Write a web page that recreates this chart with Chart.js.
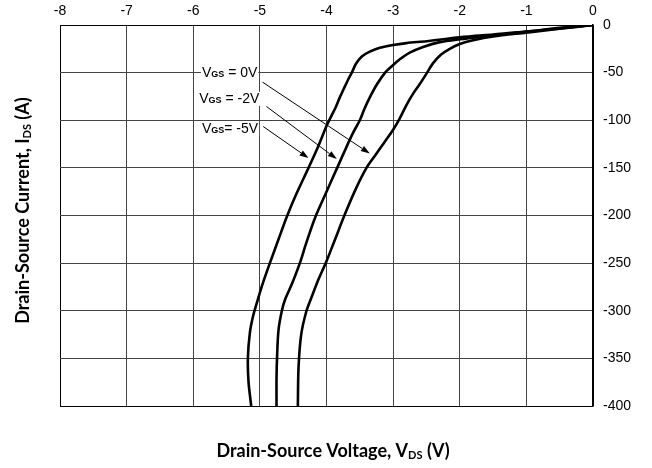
<!DOCTYPE html>
<html>
<head>
<meta charset="utf-8">
<script src="https://cdn.jsdelivr.net/npm/chart.js@4.4.0/dist/chart.umd.min.js"></script>
<style>
html, body { margin: 0; padding: 0; background: #fff; }
</style>
</head>
<body>
<canvas id="ivChart" width="652" height="468"></canvas>
<script>
// curve data (V, A)
const vds0V = [0, -0.5, -1, -1.5, -1.8, -2.0, -2.15, -2.28, -2.4, -2.49, -2.6, -2.7, -2.8, -2.9, -3.0, -3.13, -3.27, -3.4, -3.56, -3.72, -3.86, -4.0, -4.12, -4.22, -4.3, -4.38, -4.42, -4.43];
const ids0V = [0, -4, -8, -12, -16, -20, -25, -31, -40, -50, -62, -72, -84, -98, -110, -123, -137, -150, -172, -198, -223, -248, -267, -285, -300, -325, -360, -400];

const vdsM2V = [0, -0.5, -1, -1.5, -2, -2.3, -2.55, -2.75, -2.9, -3.0, -3.12, -3.24, -3.35, -3.43, -3.5, -3.6, -3.7, -3.84, -4.0, -4.17, -4.3, -4.4, -4.52, -4.62, -4.67, -4.72, -4.74, -4.75, -4.75];
const idsM2V = [0, -3.5, -7, -11, -15, -18, -23, -29, -36, -42, -50, -62, -76, -88, -100, -113, -128, -150, -175, -202, -228, -250, -272, -288, -300, -320, -345, -370, -400];

const vdsM5V = [0, -0.5, -1, -1.5, -2, -2.5, -2.8, -3.0, -3.2, -3.35, -3.47, -3.56, -3.62, -3.68, -3.74, -3.8, -3.86, -3.93, -4.0, -4.14, -4.27, -4.45, -4.6, -4.72, -4.85, -4.96, -5.03, -5.1, -5.15, -5.18, -5.17, -5.13];
const idsM5V = [0, -3, -7, -10, -13, -17, -19, -21, -24, -28, -33, -41, -50, -58, -67, -76, -86, -96, -106, -130, -150, -177, -202, -225, -250, -272, -288, -305, -323, -350, -375, -400];

const curveLabels = ['0V', '-2V', '-5V'];
const labelSep = [' = ', ' = ', '= '];
// label anchor (left, middle) and arrow start/tip in data units
const labelV = [-5.87, -5.91, -5.87];
const labelI = [-50.8, -77.6, -109.5];
const arrowFromV = [-4.96, -4.90, -4.95];
const arrowFromI = [-60, -85.6, -106.6];
const arrowToV = [-3.35, -3.845, -4.27];
const arrowToI = [-135, -140.8, -139.7];

function toPoints(xs, ys) {
    return xs.map((x, i) => ({ x: x, y: ys[i] }));
}

function drawParts(ctx, x, y, parts) {
    let cx = x;
    parts.forEach(p => {
        ctx.font = p.font;
        ctx.fillText(p.t, cx, y + (p.dy || 0));
        cx += ctx.measureText(p.t).width;
    });
    return cx - x;
}

function partsWidth(ctx, parts) {
    let w = 0;
    parts.forEach(p => { ctx.font = p.font; w += ctx.measureText(p.t).width; });
    return w;
}

const annotationPlugin = {
    id: 'vgsLabels',
    afterDatasetsDraw(chart) {
        const ctx = chart.ctx;
        const xs = chart.scales.x, ys = chart.scales.y;
        ctx.save();
        ctx.fillStyle = '#000';
        ctx.strokeStyle = '#000';
        ctx.textBaseline = 'middle';
        ctx.textAlign = 'left';
        curveLabels.forEach((lab, i) => {
            const lx = xs.getPixelForValue(labelV[i]);
            const ly = ys.getPixelForValue(labelI[i]);
            const parts = [
                { t: 'V', font: '14px "Liberation Sans", Arial, sans-serif' },
                { t: 'GS', font: 'bold 9px "Liberation Sans", Arial, sans-serif', dy: 1.5 },
                { t: labelSep[i] + lab, font: '14px "Liberation Sans", Arial, sans-serif' }
            ];
            const w = partsWidth(ctx, parts);
            ctx.fillStyle = '#fff';
            ctx.fillRect(lx - 1, ly - 7, w + 2, 14);
            ctx.fillStyle = '#000';
            drawParts(ctx, lx, ly, parts);

            const x1 = xs.getPixelForValue(arrowFromV[i]);
            const y1 = ys.getPixelForValue(arrowFromI[i]);
            const x2 = xs.getPixelForValue(arrowToV[i]);
            const y2 = ys.getPixelForValue(arrowToI[i]);
            const ang = Math.atan2(y2 - y1, x2 - x1);
            const hl = 9, hw = 3;
            ctx.lineWidth = 1;
            ctx.beginPath();
            ctx.moveTo(x1, y1);
            ctx.lineTo(x2 - hl * Math.cos(ang), y2 - hl * Math.sin(ang));
            ctx.stroke();
            ctx.beginPath();
            ctx.moveTo(x2, y2);
            ctx.lineTo(x2 - hl * Math.cos(ang) + hw * Math.sin(ang), y2 - hl * Math.sin(ang) - hw * Math.cos(ang));
            ctx.lineTo(x2 - hl * Math.cos(ang) - hw * Math.sin(ang), y2 - hl * Math.sin(ang) + hw * Math.cos(ang));
            ctx.closePath();
            ctx.fill();
        });
        ctx.restore();
    },
    afterDraw(chart) {
        const ctx = chart.ctx;
        const area = chart.chartArea;
        const big = 'bold 18px Lato, "Open Sans", sans-serif';
        const sub = 'bold 11px Lato, "Open Sans", sans-serif';
        ctx.save();
        ctx.fillStyle = '#000';
        ctx.textBaseline = 'middle';
        ctx.textAlign = 'left';

        const xParts = [
            { t: 'Drain-Source Voltage, V', font: big },
            { t: 'DS', font: sub, dy: 4 },
            { t: ' (V)', font: big }
        ];
        const xw = partsWidth(ctx, xParts);
        drawParts(ctx, 333 - xw / 2, 451, xParts);

        const yParts = [
            { t: 'Drain-Source Current, I', font: big },
            { t: 'DS', font: sub, dy: 4 },
            { t: ' (A)', font: big }
        ];
        const yw = partsWidth(ctx, yParts);
        ctx.translate(23, (area.top + area.bottom) / 2 - 5);
        ctx.rotate(-Math.PI / 2);
        drawParts(ctx, -yw / 2, 0, yParts);
        ctx.restore();
    }
};

const edgeOr = (edges, a, b) => (c) => (c.tick && edges.includes(c.tick.value)) ? a : b;

const tickFont = { family: 'Arial, "Liberation Sans", sans-serif', size: 14 };
const curveStyle = { borderColor: '#000', borderWidth: 2.6, pointRadius: 0, fill: false, tension: 0.3, showLine: true };

new Chart(document.getElementById('ivChart'), {
    type: 'scatter',
    data: {
        datasets: [
            Object.assign({ label: 'VGS = 0V', data: toPoints(vds0V, ids0V) }, curveStyle),
            Object.assign({ label: 'VGS = -2V', data: toPoints(vdsM2V, idsM2V) }, curveStyle),
            Object.assign({ label: 'VGS = -5V', data: toPoints(vdsM5V, idsM5V) }, curveStyle)
        ]
    },
    options: {
        responsive: false,
        animation: false,
        layout: { padding: { left: 60, right: 0, top: 0, bottom: 62 } },
        plugins: { legend: { display: false }, tooltip: { enabled: false } },
        scales: {
            x: {
                type: 'linear',
                position: 'top',
                min: -8, max: 0,
                ticks: { stepSize: 1, color: '#000', font: tickFont, padding: 5 },
                grid: { color: edgeOr([-8, 0], '#000', '#444'), lineWidth: 1, drawTicks: false },
                border: { display: true, color: '#000', width: 1 },
                afterFit: (s) => { s.height = 25; }
            },
            y: {
                type: 'linear',
                position: 'right',
                min: -400, max: 0,
                ticks: { stepSize: 50, color: '#000', font: tickFont, padding: 10 },
                grid: { color: edgeOr([-400, 0], '#000', '#444'), lineWidth: 1, drawTicks: false },
                border: { display: true, color: '#000', width: 1.5 },
                afterFit: (s) => { s.width = 59; }
            }
        }
    },
    plugins: [annotationPlugin]
});
</script>
</body>
</html>
